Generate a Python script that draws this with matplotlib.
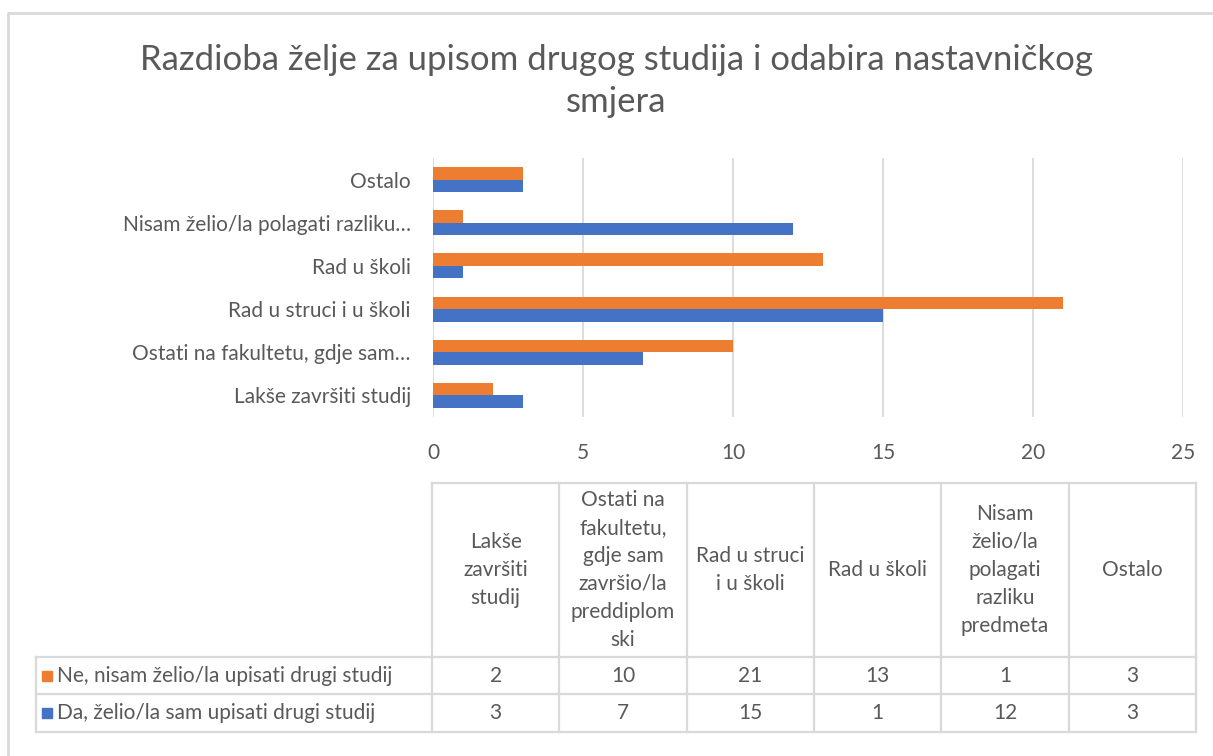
import matplotlib
matplotlib.use("Agg")
import matplotlib.pyplot as plt
import numpy as np

# 데이터
categories = ["Lakše završiti studij",
              "Ostati na fakultetu, gdje sam završio/la preddiplomski",
              "Rad u struci i u školi",
              "Rad u školi",
              "Nisam želio/la polagati razliku predmeta",
              "Ostalo"]
tick_labels = ["Lakše završiti studij",
               "Ostati na fakultetu, gdje sam…",
               "Rad u struci i u školi",
               "Rad u školi",
               "Nisam želio/la polagati razliku…",
               "Ostalo"]
header_labels = ["Lakše\nzavršiti\nstudij",
                 "Ostati na\nfakultetu,\ngdje sam\nzavršio/la\npreddiplom\nski",
                 "Rad u struci\ni u školi",
                 "Rad u školi",
                 "Nisam\nželio/la\npolagati\nrazliku\npredmeta",
                 "Ostalo"]
series_names = ["Ne, nisam želio/la upisati drugi studij",
                "Da, želio/la sam upisati drugi studij"]
ne_values = [2, 10, 21, 13, 1, 3]
da_values = [3, 7, 15, 1, 12, 3]

orange = "#ED7D31"
blue = "#4472C4"
text_col = "#595959"
grid_col = "#D9D9D9"

plt.rcParams["font.family"] = ["Lato", "DejaVu Sans"]

W, H = 1213, 756
fig = plt.figure(figsize=(W / 100, H / 100), dpi=100)

# 배경용 축 (테두리, 표)
bg = fig.add_axes([0, 0, 1, 1])
bg.set_xlim(0, W)
bg.set_ylim(H, 0)
bg.axis("off")
bg.plot([8, 8, W], [H, 13, 13], color=grid_col, lw=2)

# 제목
bg.text(616, 60, "Razdioba želje za upisom drugog studija i odabira nastavničkog",
        ha="center", va="center", fontsize=25, color=text_col)
bg.text(616, 102, "smjera", ha="center", va="center", fontsize=25, color=text_col)

# 막대 차트
ax = fig.add_axes([433 / W, 1 - 417 / H, 750 / W, 259 / H])
y = np.arange(len(categories))
h = 0.29
ax.barh(y + h / 2, ne_values, height=h, color=orange, zorder=3)
ax.barh(y - h / 2, da_values, height=h, color=blue, zorder=3)
ax.set_xlim(0, 25)
ax.set_ylim(-0.5, len(categories) - 0.5)
ax.set_xticks(range(0, 26, 5))
ax.set_yticks(y)
ax.set_yticklabels(tick_labels)
ax.grid(axis="x", color=grid_col, lw=1.3, zorder=0)
for s in ax.spines.values():
    s.set_visible(False)
ax.tick_params(length=0, labelsize=15, colors=text_col)
ax.tick_params(axis="x", pad=19)
ax.tick_params(axis="y", pad=16)

# 데이터 표
col_x = np.linspace(432, 1196, len(categories) + 1)
row_y = [483, 657, 694, 732]
lw = 1.6
bg.plot([col_x[0], col_x[-1]], [row_y[0], row_y[0]], color=grid_col, lw=lw)
for yy in row_y[1:]:
    bg.plot([36, col_x[-1]], [yy, yy], color=grid_col, lw=lw)
for xx in col_x:
    bg.plot([xx, xx], [row_y[0], row_y[-1]], color=grid_col, lw=lw)
bg.plot([36, 36], [row_y[1], row_y[-1]], color=grid_col, lw=lw)

for i, lab in enumerate(header_labels):
    cx = (col_x[i] + col_x[i + 1]) / 2
    bg.text(cx, (row_y[0] + row_y[1]) / 2, lab, ha="center", va="center",
            fontsize=15, color=text_col, linespacing=1.5)

for r, (name, vals, c) in enumerate([(series_names[0], ne_values, orange),
                                       (series_names[1], da_values, blue)]):
    cy = (row_y[r + 1] + row_y[r + 2]) / 2
    bg.add_patch(plt.Rectangle((42, cy - 5), 10, 10, color=c))
    bg.text(57, cy, name, ha="left", va="center", fontsize=15, color=text_col)
    for i, v in enumerate(vals):
        cx = (col_x[i] + col_x[i + 1]) / 2
        bg.text(cx, cy, str(v), ha="center", va="center", fontsize=15, color=text_col)

fig.savefig("out.png", dpi=100)
